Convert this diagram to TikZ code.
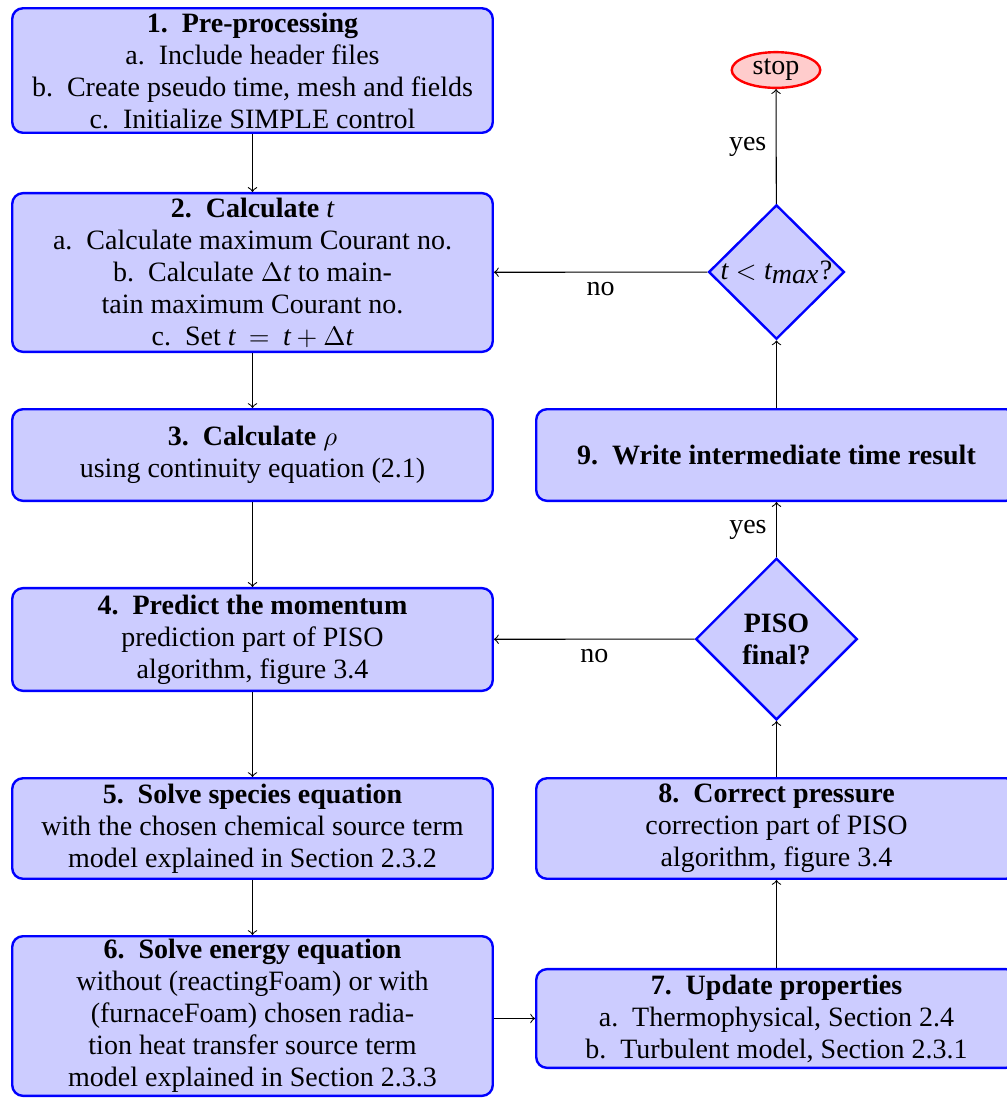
\documentclass[tikz,border=0pt]{standalone}
\usepackage{fontspec}
\setmainfont{Liberation Serif}[Scale=1.05, PunctuationSpace=TwiceWordSpace]
\newcommand\mt{\textit{t}}
\usetikzlibrary{shapes.geometric}
\begin{document}
\begin{tikzpicture}[x=0.375pt,y=-0.375pt,
  box/.style={rectangle, rounded corners=4pt, draw=blue, line width=0.9pt, fill=blue!20,
    inner xsep=3pt, inner ysep=1pt, minimum width=180.2pt, align=center},
  decision/.style={diamond, draw=blue, line width=0.9pt, fill=blue!20, inner sep=0pt, align=center},
  terminal/.style={ellipse, draw=red, line width=0.9pt, fill=red!20, inner sep=0pt},
  conn/.style={->, line width=0.4pt}]
\useasboundingbox (0,0) rectangle (1007,1099);
\node[box, minimum height=46.7pt] (b1) at (252.5,70.5) {\textbf{1. Pre-processing}\\ a. Include header files\\ b. Create pseudo time, mesh and fields\\ c. Initialize SIMPLE control};
\node[box, minimum height=59.5pt] (b2) at (252.5,272.5) {\textbf{2. Calculate} $\mt$\\ a. Calculate maximum Courant no.\\ b. Calculate $\Delta\mt$ to main-\\ tain maximum Courant no.\\ c. Set $\mt\mskip4mu=\mskip4mu \mt+\Delta\mt$};
\node[box, minimum height=34.35pt] (b3) at (252.5,455) {\textbf{3. Calculate} $\rho$\\ using continuity equation (2.1)};
\node[box, minimum height=38.5pt] (b4) at (252.5,639.5) {\textbf{4. Predict the momentum}\\ prediction part of PISO\\ algorithm, figure 3.4};
\node[box, minimum height=37.7pt] (b5) at (252.5,828.5) {\textbf{5. Solve species equation}\\ with the chosen chemical source term\\ model explained in Section 2.3.2};
\node[box, minimum height=59.85pt] (b6) at (252.5,1016) {\textbf{6. Solve energy equation}\\ without (reactingFoam) or with\\ (furnaceFoam) chosen radia-\\ tion heat transfer source term\\ model explained in Section 2.3.3};
\node[box, minimum height=37pt] (b7) at (776.5,1018.5) {\textbf{7. Update properties}\\ a. Thermophysical, Section 2.4\\ b. Turbulent model, Section 2.3.1};
\node[box, minimum height=37.7pt] (b8) at (776.5,828.5) {\textbf{8. Correct pressure}\\ correction part of PISO\\ algorithm, figure 3.4};
\node[box, minimum height=34.35pt] (b9) at (776.5,455) {\textbf{9. Write intermediate time result}};
\node[decision, minimum width=60.6pt, minimum height=60.6pt] (piso) at (776.5,639) {\textbf{PISO}\\ \textbf{final?}};
\node[decision, minimum width=50.9pt, minimum height=50.1pt] (tmax) at (776.5,272) {$\mt<\mt_{\textit{max}}$?};
\node[terminal, minimum width=33.2pt, minimum height=13.4pt] (stop) at (776,70) {stop};
\draw[conn] (b1) -- (b2);
\draw[conn] (b2) -- (b3);
\draw[conn] (b3) -- (b4);
\draw[conn] (b4) -- (b5);
\draw[conn] (b5) -- (b6);
\draw[conn] (b7.west -| b6.east) -- (b7.west);
\draw[conn] (b7) -- (b8);
\draw[conn] (b8) -- (piso);
\draw[conn] (piso) -- node[left] {yes} (b9);
\draw[conn] (piso) -- node[below] {no} (b4);
\draw[conn] (b9) -- (tmax);
\draw[conn] (tmax) -- node[left] {yes} (stop);
\draw[conn] (tmax) -- node[below] {no} (b2);
\end{tikzpicture}
\end{document}
